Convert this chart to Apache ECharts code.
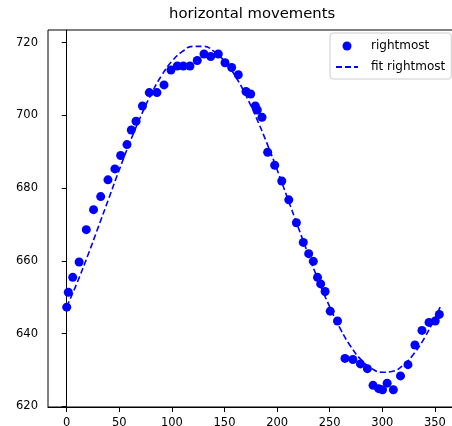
<!DOCTYPE html>
<html>
<head>
<meta charset="utf-8">
<script src="https://cdn.jsdelivr.net/npm/echarts@6/dist/echarts.min.js"></script>
<style>
html,body{margin:0;padding:0;background:#fff;}
#chart{width:452px;height:426px;}
</style>
</head>
<body>
<div id="chart"></div>
<script>
const titleText = 'horizontal movements';
const seriesNames = ['rightmost', 'fit rightmost'];

const pointX = [0, 1.5, 5.7, 11.8, 18.6, 25.5, 32.3, 39.2, 45.8, 51.3, 57.3, 61.4, 65.9, 72, 78.5, 85.8, 92.5, 99.1, 105.1, 110.8, 117.2, 124.1, 130.5, 136.9, 144.1, 150.5, 156.8, 163.1, 170.4, 174.9, 179.3, 181.2, 185.6, 191, 197.7, 204.4, 211.1, 218.3, 224.9, 230, 234.4, 238.4, 241.4, 245.6, 250.5, 257.4, 264.5, 272, 279.2, 285.8, 291.2, 296.6, 300.2, 304.6, 310.5, 317.3, 324.4, 331, 337.7, 344.4, 350.3, 354.2];
const pointY = [647.3, 651.4, 655.5, 659.7, 668.6, 674.1, 677.7, 682.3, 685.3, 689.0, 692.0, 696.0, 698.4, 702.6, 706.3, 706.3, 708.4, 712.5, 713.6, 713.6, 713.6, 715.1, 716.9, 716.2, 716.9, 714.5, 713.2, 711.2, 706.6, 705.9, 702.6, 701.5, 699.5, 689.9, 686.3, 682.0, 676.8, 670.5, 665.1, 662.0, 659.9, 655.5, 653.7, 651.6, 646.2, 643.5, 633.2, 632.9, 631.7, 630.4, 625.8, 624.9, 624.6, 626.4, 624.6, 628.4, 631.5, 636.9, 640.9, 643.1, 643.5, 645.3];

const fitX = [0, 10, 20, 30, 40, 50, 60, 70, 80, 90, 100, 110, 120, 130, 140, 150, 160, 170, 180, 190, 200, 210, 220, 230, 240, 250, 260, 270, 280, 290, 300, 310, 320, 330, 340, 350, 355];
const fitY = [647.4, 654.1, 661.5, 669.3, 677.2, 685.1, 692.6, 699.5, 705.7, 710.9, 714.9, 717.6, 719.0, 719.0, 717.6, 714.9, 710.9, 705.7, 699.5, 692.6, 685.1, 677.2, 669.3, 661.5, 654.1, 647.4, 641.4, 636.5, 632.8, 630.4, 629.4, 629.7, 631.4, 634.5, 638.8, 644.3, 647.3];

const xTicks = [0, 50, 100, 150, 200, 250, 300, 350];
const yTicks = [620, 640, 660, 680, 700, 720];

const FONT = 'DejaVu Sans';
const chart = echarts.init(document.getElementById('chart'), null, {renderer: 'canvas'});

const scatterData = pointX.map((x, i) => [x, pointY[i]]);
const fitData = fitX.map((x, i) => [x, fitY[i]]);

chart.setOption({
  animation: false,
  backgroundColor: '#fff',
  title: {
    text: titleText,
    left: 169,
    top: 7,
    padding: 0,
    textStyle: {fontFamily: FONT, fontSize: 14.8, fontWeight: 'normal', color: '#000'}
  },
  grid: {
    left: 48, top: 30, width: 413, height: 377,
    outerBoundsMode: 'none',
    containLabel: false,
    show: true, borderColor: '#000', borderWidth: 1, backgroundColor: 'transparent'
  },
  legend: {
    orient: 'vertical',
    left: 330, top: 33,
    padding: [7, 6, 6, 5],
    itemGap: 9,
    itemWidth: 22, itemHeight: 9,
    borderColor: '#cccccc', borderWidth: 1, borderRadius: 3,
    backgroundColor: 'rgba(255,255,255,0.8)',
    textStyle: {fontFamily: FONT, fontSize: 12, color: '#000', padding: [0, 0, 0, 8]},
    data: [
      {name: seriesNames[0], icon: 'circle'},
      {name: seriesNames[1], itemStyle: {opacity: 0, color: 'transparent', borderWidth: 0}}
    ]
  },
  xAxis: {
    type: 'value', min: -17.8, max: 374.8,
    axisLine: {show: true, lineStyle: {color: '#000', width: 1}},
    axisTick: {show: true, length: 5, customValues: xTicks, lineStyle: {color: '#000'}},
    axisLabel: {customValues: xTicks, margin: 10, fontFamily: FONT, fontSize: 11.5, color: '#000'},
    splitLine: {show: false}
  },
  yAxis: {
    type: 'value', min: 619.85, max: 723.5,
    axisLine: {show: true, lineStyle: {color: '#000', width: 1}},
    axisTick: {show: true, length: 5, customValues: yTicks, lineStyle: {color: '#000'}},
    axisLabel: {customValues: yTicks, margin: 10, fontFamily: FONT, fontSize: 11.5, color: '#000'},
    splitLine: {show: false}
  },
  series: [
    {
      name: seriesNames[0], type: 'scatter', data: scatterData,
      symbol: 'circle', symbolSize: 9,
      itemStyle: {color: '#0000ff', opacity: 1}, z: 2
    },
    {
      name: seriesNames[1], type: 'line', data: fitData,
      smooth: true, showSymbol: false, symbol: 'none',
      lineStyle: {color: '#0000ff', width: 1.6, type: [6, 3]},
      itemStyle: {color: '#0000ff'}, z: 3
    }
  ]
});
</script>
</body>
</html>
